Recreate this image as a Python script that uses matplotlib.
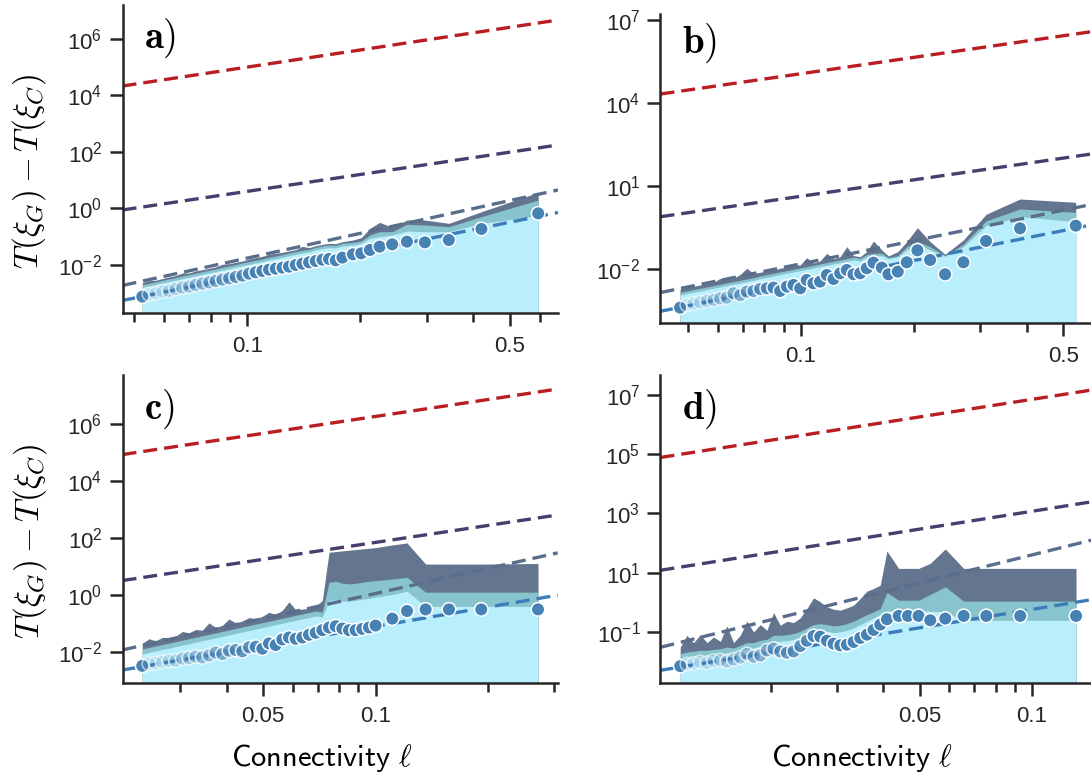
import numpy as np
import matplotlib
matplotlib.use('Agg')
import matplotlib.pyplot as plt
from matplotlib.colors import to_rgb
from matplotlib.ticker import LogLocator, NullFormatter, NullLocator

plt.rcParams['font.family'] = ['Liberation Sans', 'DejaVu Sans']
plt.rcParams['axes.edgecolor'] = '#262626'
plt.rcParams['xtick.color'] = '#262626'
plt.rcParams['ytick.color'] = '#262626'

# ---- a) ----
a_conn = [0.0525, 0.0547, 0.0570, 0.0594, 0.0618, 0.0644, 0.0671, 0.0699, 0.0728, 0.0759,
          0.0791, 0.0823, 0.0858, 0.0894, 0.0931, 0.0970, 0.1010, 0.1052, 0.1096, 0.1142,
          0.1190, 0.1240, 0.1291, 0.1345, 0.1401, 0.1460, 0.1521, 0.1584, 0.1650, 0.1719,
          0.1791, 0.191, 0.201, 0.212, 0.225, 0.243, 0.266, 0.297, 0.344, 0.420, 0.595]
a_gap = [7.62e-4, 9.22e-4, 1.00e-3, 1.15e-3, 1.21e-3, 1.42e-3, 1.58e-3, 1.72e-3, 1.97e-3, 2.19e-3,
         2.44e-3, 2.72e-3, 3.03e-3, 3.38e-3, 3.77e-3, 4.20e-3, 4.94e-3, 5.51e-3, 6.14e-3, 6.84e-3,
         7.42e-3, 8.05e-3, 8.73e-3, 1.00e-2, 1.11e-2, 1.24e-2, 1.38e-2, 1.54e-2, 1.63e-2, 1.46e-2,
         1.82e-2, 0.0238, 0.0258, 0.0339, 0.0444, 0.0536, 0.0667, 0.0631, 0.0762, 0.187, 0.667]
a_cyan = [1.63e-3, 1.81e-3, 2.02e-3, 2.32e-3, 2.58e-3, 2.87e-3, 3.29e-3, 3.67e-3, 4.09e-3, 4.69e-3,
          5.22e-3, 5.82e-3, 6.67e-3, 7.42e-3, 8.29e-3, 9.50e-3, 1.05e-2, 1.18e-2, 1.31e-2, 1.51e-2,
          1.67e-2, 1.87e-2, 2.13e-2, 2.38e-2, 2.66e-2, 2.87e-2, 3.39e-2, 3.78e-2, 4.09e-2, 3.98e-2,
          4.69e-2, 5.08e-2, 5.82e-2, 8.73e-2, 0.100, 0.115, 0.158, 0.150, 0.150, 0.296, 0.551]
a_teal = [2.02e-3, 2.25e-3, 2.51e-3, 2.88e-3, 3.21e-3, 3.57e-3, 4.09e-3, 4.56e-3, 5.08e-3, 5.82e-3,
          6.49e-3, 7.23e-3, 8.28e-3, 9.22e-3, 1.03e-2, 1.18e-2, 1.31e-2, 1.46e-2, 1.63e-2, 1.87e-2,
          2.08e-2, 2.32e-2, 2.65e-2, 2.96e-2, 3.30e-2, 3.57e-2, 4.21e-2, 4.69e-2, 5.08e-2, 4.94e-2,
          5.82e-2, 6.31e-2, 7.03e-2, 0.115, 0.150, 0.150, 0.272, 0.258, 0.225, 0.508, 1.97]
a_dark = [2.38e-3, 2.80e-3, 2.88e-3, 3.30e-3, 3.77e-3, 4.20e-3, 5.22e-3, 5.22e-3, 6.14e-3, 6.84e-3,
          7.62e-3, 8.50e-3, 1.06e-2, 1.11e-2, 1.24e-2, 1.38e-2, 1.63e-2, 1.82e-2, 2.02e-2, 2.38e-2,
          2.58e-2, 2.80e-2, 3.12e-2, 3.48e-2, 4.56e-2, 4.09e-2, 4.81e-2, 5.36e-2, 5.82e-2, 5.66e-2,
          6.67e-2, 7.62e-2, 9.22e-2, 0.197, 0.321, 0.213, 0.387, 0.387, 0.296, 0.762, 3.67]
a_xlim = (0.0465, 0.672)
# bound lines at the two x limits: red, purple, grey, blue
a_fits = [(2.11e4, 4.54e6), (0.878, 174.0), (1.89e-3, 4.47), (5.57e-4, 0.716)]

# ---- b) ----
b_conn = [0.0477, 0.0497, 0.0518, 0.0540, 0.0562, 0.0586, 0.0610, 0.0635, 0.0662, 0.0690,
          0.0718, 0.0748, 0.0779, 0.0812, 0.0846, 0.0881, 0.0918, 0.0956, 0.0996, 0.1037,
          0.1080, 0.1125, 0.1173, 0.1222, 0.1273, 0.1326, 0.1381, 0.1439, 0.1498, 0.1561,
          0.1643, 0.1711, 0.1812, 0.1915, 0.2044, 0.2209, 0.2422, 0.2710, 0.3113, 0.3835, 0.5395]
b_gap = [4.13e-4, 5.15e-4, 5.76e-4, 6.44e-4, 7.20e-4, 7.82e-4, 8.98e-4, 9.49e-4, 1.36e-3, 1.18e-3,
         1.56e-3, 1.65e-3, 1.95e-3, 2.06e-3, 2.18e-3, 1.65e-3, 2.37e-3, 2.72e-3, 2.06e-3, 4.12e-3,
         3.13e-3, 3.59e-3, 6.24e-3, 4.48e-3, 7.17e-3, 9.46e-3, 6.61e-3, 7.17e-3, 1.09e-2, 1.74e-2,
         1.15e-2, 6.61e-3, 8.24e-3, 1.79e-2, 4.85e-2, 2.17e-2, 6.61e-3, 1.79e-2, 0.1055, 0.302, 0.377]
b_cyan = [1.18e-3, 1.32e-3, 1.48e-3, 1.65e-3, 1.84e-3, 2.06e-3, 2.30e-3, 2.57e-3, 2.87e-3, 3.21e-3,
          3.58e-3, 4.00e-3, 4.59e-3, 5.13e-3, 5.74e-3, 6.41e-3, 7.16e-3, 8.00e-3, 8.96e-3, 1.00e-2,
          1.11e-2, 1.25e-2, 1.39e-2, 1.56e-2, 1.74e-2, 1.94e-2, 2.17e-2, 1.99e-2, 2.71e-2, 3.02e-2,
          3.11e-2, 2.36e-2, 2.79e-2, 4.99e-2, 8.00e-2, 4.99e-2, 2.94e-2, 6.58e-2, 0.377, 0.796, 0.526]
b_teal = [1.48e-3, 1.65e-3, 1.85e-3, 2.06e-3, 2.30e-3, 2.57e-3, 2.87e-3, 3.21e-3, 3.59e-3, 4.01e-3,
          4.48e-3, 5.00e-3, 5.74e-3, 6.41e-3, 7.17e-3, 8.01e-3, 8.95e-3, 1.00e-2, 1.12e-2, 1.25e-2,
          1.39e-2, 1.56e-2, 1.74e-2, 1.95e-2, 2.17e-2, 2.43e-2, 2.71e-2, 2.49e-2, 3.39e-2, 3.78e-2,
          3.78e-2, 2.64e-2, 3.11e-2, 6.58e-2, 9.98e-2, 6.58e-2, 3.11e-2, 8.00e-2, 0.556, 1.51, 1.14]
b_dark = [1.95e-3, 2.30e-3, 2.43e-3, 2.72e-3, 3.04e-3, 3.40e-3, 4.73e-3, 4.24e-3, 4.73e-3, 6.59e-3,
          1.09e-2, 6.98e-3, 7.80e-3, 8.71e-3, 9.46e-3, 1.09e-2, 1.21e-2, 1.43e-2, 1.43e-2, 2.64e-2,
          1.69e-2, 2.00e-2, 3.78e-2, 2.36e-2, 2.86e-2, 6.58e-2, 3.11e-2, 2.86e-2, 4.35e-2, 0.105,
          4.99e-2, 3.03e-2, 4.35e-2, 9.98e-2, 0.319, 9.98e-2, 3.48e-2, 0.115, 0.968, 3.46, 2.62]
b_xlim = (0.0423, 0.609)
b_fits = [(2.13e4, 3.99e6), (0.793, 153.0), (1.45e-3, 2.35), (3.05e-4, 0.428)]

# ---- c) ----
c_conn = [0.02380, 0.02480, 0.02584, 0.02692, 0.02805, 0.02922, 0.03045, 0.03172, 0.03305, 0.03443,
          0.03588, 0.03738, 0.03895, 0.04058, 0.04227, 0.04404, 0.04589, 0.04781, 0.04981, 0.05189,
          0.05407, 0.05633, 0.05869, 0.06115, 0.06371, 0.06638, 0.06916, 0.07205, 0.07507, 0.07821,
          0.08148, 0.0849, 0.0884, 0.0921, 0.0960, 0.1000, 0.1108, 0.1213, 0.1360, 0.1570, 0.1915, 0.2715]
c_gap = [3.16e-3, 3.71e-3, 3.92e-3, 4.36e-3, 4.72e-3, 4.85e-3, 5.70e-3, 6.01e-3, 6.69e-3, 6.34e-3,
         7.45e-3, 9.23e-3, 8.29e-3, 1.08e-2, 1.14e-2, 1.03e-2, 1.42e-2, 1.49e-2, 1.27e-2, 1.95e-2,
         1.71e-2, 2.69e-2, 3.16e-2, 2.84e-2, 3.16e-2, 3.92e-2, 4.60e-2, 5.70e-2, 7.06e-2, 7.85e-2,
         6.51e-2, 5.70e-2, 5.70e-2, 6.34e-2, 7.06e-2, 8.30e-2, 0.1455, 0.269, 0.307, 0.307, 0.307, 0.307]
c_cyan = [8.3e-3, 9.4e-3, 1.06e-2, 1.19e-2, 1.33e-2, 1.51e-2, 1.69e-2, 1.90e-2, 2.14e-2, 2.42e-2,
          2.72e-2, 3.06e-2, 3.44e-2, 3.88e-2, 4.36e-2, 4.91e-2, 5.52e-2, 6.24e-2, 7.01e-2, 7.87e-2,
          8.88e-2, 0.1001, 0.1126, 0.1266, 0.1427, 0.160, 0.180, 0.166, 0.634, 0.670,
          0.601, 0.601, 0.634, 0.706, 0.745, 0.830, 1.03, 1.34, 0.392, 0.392, 0.392, 0.392]
c_teal = [1.24e-2, 1.40e-2, 1.58e-2, 1.77e-2, 1.99e-2, 2.25e-2, 2.52e-2, 2.84e-2, 3.20e-2, 3.61e-2,
          4.06e-2, 4.56e-2, 5.13e-2, 5.79e-2, 6.51e-2, 7.33e-2, 8.24e-2, 9.31e-2, 0.1047, 0.1175,
          0.1325, 0.1494, 0.168, 0.189, 0.213, 0.239, 0.269, 0.248, 2.77, 3.00,
          2.55, 2.42, 2.55, 2.77, 3.00, 3.16, 3.61, 4.13, 1.24, 1.24, 1.24, 1.24]
c_dark = [1.95e-2, 2.84e-2, 2.42e-2, 3.16e-2, 3.16e-2, 3.52e-2, 5.12e-2, 4.60e-2, 6.01e-2, 5.70e-2,
          0.1028, 7.06e-2, 8.51e-2, 0.1416, 0.1028, 0.1205, 0.158, 0.1455, 0.1754, 0.242,
          0.206, 0.284, 0.570, 0.300, 0.316, 0.334, 0.392, 0.634, 31.6, 33.3,
          35.2, 37.2, 39.2, 41.3, 43.6, 46.0, 57.0, 67.0, 12.1, 12.1, 12.1, 12.7]
c_xlim = (0.02108, 0.3065)
c_fits = [(8.67e4, 1.76e7), (3.19, 649.0), (1.15e-2, 30.0), (2.26e-3, 0.975)]

# ---- d) ----
d_conn = [0.01143, 0.01191, 0.01241, 0.01293, 0.01348, 0.01404, 0.01463, 0.01524, 0.01588, 0.01655,
          0.01724, 0.01797, 0.01872, 0.01951, 0.02032, 0.02118, 0.02207, 0.02299, 0.02396, 0.02496,
          0.02601, 0.02710, 0.02824, 0.02942, 0.03066, 0.03194, 0.03328, 0.03468, 0.03614, 0.03765,
          0.03923, 0.04088, 0.04395, 0.04655, 0.04970, 0.05340, 0.05859, 0.06561, 0.07545, 0.0930, 0.1312]
d_gap = [7.03e-3, 8.22e-3, 8.67e-3, 9.62e-3, 9.12e-3, 1.07e-2, 1.12e-2, 1.01e-2, 1.18e-2, 1.38e-2,
         1.79e-2, 1.46e-2, 1.62e-2, 2.39e-2, 2.72e-2, 2.21e-2, 1.99e-2, 2.21e-2, 3.35e-2, 5.08e-2,
         7.31e-2, 6.95e-2, 5.08e-2, 4.03e-2, 3.53e-2, 3.72e-2, 4.58e-2, 6.27e-2, 8.12e-2, 0.117,
         0.1775, 0.2685, 0.348, 0.348, 0.348, 0.248, 0.283, 0.348, 0.348, 0.348, 0.348]
d_cyan = [1.18e-2, 1.38e-2, 1.46e-2, 1.54e-2, 1.54e-2, 1.71e-2, 1.79e-2, 1.99e-2, 1.89e-2, 2.33e-2,
          2.87e-2, 2.87e-2, 3.35e-2, 3.72e-2, 4.83e-2, 4.83e-2, 5.08e-2, 5.64e-2, 6.77e-2, 8.79e-2,
          0.1054, 0.1139, 0.1054, 9.49e-2, 0.100, 0.1139, 0.1368, 0.1775, 0.230, 0.299,
          0.387, 0.502, 0.529, 0.529, 0.529, 0.502, 0.477, 0.248, 0.248, 0.248, 0.248]
d_teal = [1.85e-2, 2.10e-2, 2.21e-2, 2.39e-2, 2.39e-2, 2.58e-2, 2.72e-2, 3.10e-2, 2.87e-2, 3.53e-2,
          4.35e-2, 4.35e-2, 5.22e-2, 5.64e-2, 7.71e-2, 7.71e-2, 8.12e-2, 8.79e-2, 0.1054, 0.1368,
          0.1775, 0.1915, 0.1775, 0.1596, 0.168, 0.1915, 0.230, 0.299, 0.387, 0.477,
          0.618, 2.15, 1.18, 1.18, 1.18, 1.85, 3.35, 1.10, 1.10, 1.10, 1.10]
d_dark = [3.10e-2, 7.71e-2, 4.35e-2, 8.12e-2, 4.35e-2, 6.77e-2, 4.83e-2, 0.1596, 4.35e-2, 7.71e-2,
          0.230, 0.100, 0.1775, 0.1139, 0.452, 0.168, 0.230, 0.207, 0.299, 0.618,
          1.42, 1.04, 0.703, 0.586, 0.542, 0.651, 0.802, 1.35, 2.39, 2.94,
          3.82, 54.2, 14.0, 14.0, 14.0, 20.7, 63.4, 14.0, 14.0, 14.0, 14.0]
d_xlim = (0.01012, 0.1482)
d_fits = [(7.80e4, 1.55e7), (12.1, 2610.0), (3.04e-2, 137.0), (5.08e-3, 1.30)]

CYAN = '#b9eefc'
TEAL = '#88c4cd'
SLATE = '#64768f'
POINT = '#4682b4'
FIT_COLORS = ['#b91e23', '#4b3c6e', '#5a6e8c', '#3c7db9']


def draw_panel(ax, conn, gap, cyan, teal, dark, fits, xlim, ylim, yticks,
               xticks, xlabels, n_faint, tag, tag_y):
    ax.set_xscale('log')
    ax.set_yscale('log')
    floor = 1e-6
    ax.fill_between(conn, floor, dark, color=SLATE, lw=0, zorder=1)
    ax.fill_between(conn, floor, teal, color=TEAL, lw=0, zorder=1.1)
    ax.fill_between(conn, floor, cyan, color=CYAN, lw=0, zorder=1.2)
    for (y0, y1), col in zip(fits, FIT_COLORS):
        ax.plot(xlim, [y0, y1], color=col, lw=2.4, ls=(0, (4.2, 2.1)), zorder=2)

    # early (sparsely sampled) points fade in, their white rims stay visible
    fade = np.clip(np.arange(len(conn)) / n_faint, 0.12, 1.0)
    fade[0] = 1.0
    face = [(*to_rgb(POINT), f) for f in fade]
    rim = [(1.0, 1.0, 1.0, 0.55 + 0.45 * f) for f in fade]
    ax.scatter(conn, gap, s=95, facecolors=face, edgecolors=rim, linewidths=1.1,
               zorder=3)

    ax.set_xlim(xlim)
    ax.set_ylim(ylim)
    ax.set_yticks(yticks)
    ax.yaxis.set_minor_locator(NullLocator())
    ax.set_xticks(xticks, xlabels)
    ax.xaxis.set_minor_locator(LogLocator(base=10, subs=np.arange(1, 10)))
    ax.xaxis.set_minor_formatter(NullFormatter())

    for side in ('top', 'right'):
        ax.spines[side].set_visible(False)
    for side in ('left', 'bottom'):
        ax.spines[side].set_linewidth(1.8)
    ax.tick_params(which='major', length=9.5, width=1.8, labelsize=16)
    ax.tick_params(axis='x', which='major', pad=7)
    ax.tick_params(axis='y', which='major', pad=5)
    ax.tick_params(which='minor', length=6.5, width=1.8)

    ax.text(0.05, tag_y, r'$\mathbf{%s)}$' % tag, transform=ax.transAxes,
            fontsize=28, math_fontfamily='cm', ha='left', va='baseline')


fig = plt.figure(figsize=(10.91, 7.78), dpi=100)
ax_a = fig.add_axes([0.1123, 0.5973, 0.3992, 0.3963])
ax_b = fig.add_axes([0.6054, 0.5844, 0.3987, 0.3976])
ax_c = fig.add_axes([0.1123, 0.1221, 0.3989, 0.3959])
ax_d = fig.add_axes([0.6054, 0.1221, 0.3990, 0.3959])

draw_panel(ax_a, a_conn, a_gap, a_cyan, a_teal, a_dark, a_fits, a_xlim,
           (1.96e-4, 1.54e7), [1e-2, 1e0, 1e2, 1e4, 1e6],
           [0.1, 0.5], ['0.1', '0.5'], 18, 'a', 0.861)
draw_panel(ax_b, b_conn, b_gap, b_cyan, b_teal, b_dark, b_fits, b_xlim,
           (1.12e-4, 1.65e7), [1e-2, 1e1, 1e4, 1e7],
           [0.1, 0.5], ['0.1', '0.5'], 15, 'b', 0.875)
draw_panel(ax_c, c_conn, c_gap, c_cyan, c_teal, c_dark, c_fits, c_xlim,
           (7.87e-4, 5.48e7), [1e-2, 1e0, 1e2, 1e4, 1e6],
           [0.05, 0.1], ['0.05', '0.1'], 19, 'c', 0.859)
draw_panel(ax_d, d_conn, d_gap, d_cyan, d_teal, d_dark, d_fits, d_xlim,
           (1.89e-3, 4.74e7), [1e-1, 1e1, 1e3, 1e5, 1e7],
           [0.05, 0.1], ['0.05', '0.1'], 21, 'd', 0.859)

for ax in (ax_a, ax_c):
    ax.set_ylabel(r'$T(\xi_G) - T(\xi_C)$', fontsize=24, math_fontfamily='cm')
    ax.yaxis.set_label_coords(-0.17, 0.46)
for ax, xc in ((ax_c, 0.458), (ax_d, 0.463)):
    ax.set_xlabel(r'$\mathsf{Connectivity}\ \ell$', fontsize=22, math_fontfamily='cm')
    ax.xaxis.set_label_coords(xc, -0.19)

fig.savefig('out.png', dpi=100)
